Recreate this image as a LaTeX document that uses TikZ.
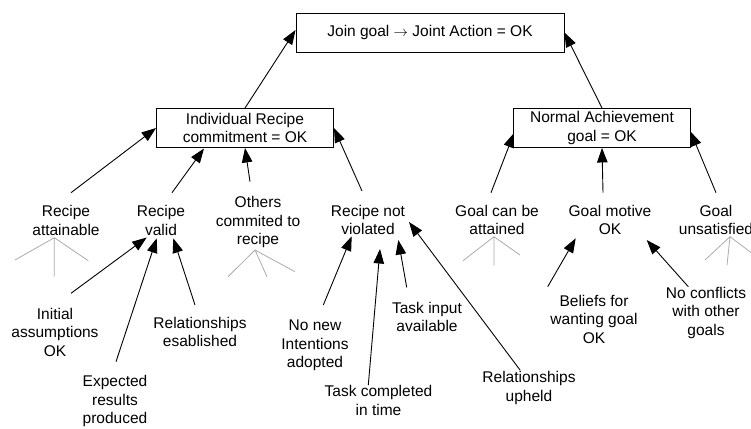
\documentclass[tikz,border=0pt]{standalone}
\usepackage{fontspec}
\setmainfont{Liberation Sans}
\usetikzlibrary{arrows.meta}
\begin{document}
\begin{tikzpicture}[x=1pt,y=-1pt,
  txt/.style={font=\fontsize{15.5}{18.5}\selectfont},
  % anchored at the baseline of the last line
  lbl/.style={txt, align=center, inner sep=0pt, anchor=base},
  goalbox/.style={txt, draw, line width=0.9pt, inner sep=0pt, align=center},
  arr/.style={line width=0.9pt, -{Triangle[length=14.5pt,width=10.5pt]}},
  subtree/.style={draw=black!33, line width=0.8pt}]
\clip (0,0) rectangle (751,428);

% goal boxes
\node[goalbox, minimum width=268pt, minimum height=39pt] (top) at (430,32.5)
  {Join goal $\rightarrow$ Joint Action = OK};
\node[goalbox, minimum width=177pt, minimum height=39pt] (ind) at (245,128)
  {Individual Recipe\\commitment = OK};
\node[goalbox, minimum width=177pt, minimum height=39pt] (norm) at (602,128)
  {Normal Achievement\\goal = OK};

% second level conditions
\node[lbl] (attain)   at (66,235.2)  {Recipe\\attainable};
\node[lbl] (valid)    at (161,235.2) {Recipe\\valid};
\node[lbl] (others)   at (258,244.5) {Others\\commited to\\recipe};
\node[lbl] (notviol)  at (368,234.8) {Recipe not\\violated};
\node[lbl] (attained) at (497,234.5) {Goal can be\\attained};
\node[lbl] (motive)   at (610,234.5) {Goal motive\\OK};
\node[lbl] (unsat)    at (716,234.5) {Goal\\unsatisfied};

% third level conditions
\node[lbl] (initial)   at (55,356.3)  {Initial\\assumptions\\OK};
\node[lbl] (expected)  at (115,423.7) {Expected\\results\\produced};
\node[lbl] (relest)    at (200,346.8) {Relationships\\esablished};
\node[lbl] (nonew)     at (315,367.7) {No new\\Intentions\\adopted};
\node[lbl] (taskcomp)  at (378.5,415.2) {Task completed\\in time};
\node[lbl] (taskinput) at (427,331.8) {Task input\\available};
\node[lbl] (relup)     at (529,401.2) {Relationships\\upheld};
\node[lbl] (beliefs)   at (594,343)   {Beliefs for\\wanting goal\\OK};
\node[lbl] (noconf)    at (706,335.3) {No conflicts\\with other\\goals};

% connector end points
\coordinate (attain-o)   at (71,192.7);
\coordinate (valid-o)    at (172,192.7);
\coordinate (valid-t)    at (204,148.5);
\coordinate (others-o)   at (250,181.7);
\coordinate (notviol-o)  at (362,191);
\coordinate (attained-o) at (491,192.7);
\coordinate (attained-t) at (514,133);
\coordinate (motive-o)   at (603,192.7);
\coordinate (unsat-o)    at (716,192.7);
\coordinate (unsat-t)    at (690.5,131.5);

\coordinate (initial-o)   at (71,293.3);
\coordinate (initial-t)   at (146.7,237.5);
\coordinate (expected-o)  at (116,361.7);
\coordinate (expected-t)  at (156.7,238.3);
\coordinate (relest-o)    at (195,305);
\coordinate (relest-t)    at (173.3,238.3);
\coordinate (nonew-o)     at (323.3,305);
\coordinate (nonew-t)     at (351.7,236.3);
\coordinate (taskcomp-o)  at (368.3,385);
\coordinate (taskcomp-t)  at (380,249);
\coordinate (taskinput-o) at (406.7,287.3);
\coordinate (taskinput-t) at (398.3,240);
\coordinate (relup-o)     at (520,370);
\coordinate (relup-t)     at (409,222);
\coordinate (beliefs-o)   at (547.7,286.7);
\coordinate (beliefs-t)   at (575.7,238.3);
\coordinate (noconf-o)    at (688.3,286.7);
\coordinate (noconf-t)    at (646.7,240);

% connectors
\draw[arr] (ind.north) -- ([yshift=2.5pt]top.west);
\draw[arr] (norm.north) -- (top.east);
\draw[arr] (attain-o) -- (ind.west);
\draw[arr] (valid-o) -- (valid-t);
\draw[arr] (others-o) -- (ind.south);
\draw[arr] (notviol-o) -- (ind.east);
\draw[arr] (attained-o) -- (attained-t);
\draw[arr] (motive-o) -- (norm.south);
\draw[arr] (unsat-o) -- (unsat-t);

\draw[arr] (initial-o) -- (initial-t);
\draw[arr] (expected-o) -- (expected-t);
\draw[arr] (relest-o) -- (relest-t);
\draw[arr] (nonew-o) -- (nonew-t);
\draw[arr] (taskcomp-o) -- (taskcomp-t);
\draw[arr] (taskinput-o) -- (taskinput-t);
\draw[arr] (relup-o) -- (relup-t);
\draw[arr] (beliefs-o) -- (beliefs-t);
\draw[arr] (noconf-o) -- (noconf-t);

% collapsed sub-trees
\draw[subtree] (15,260) -- (54.3,237.7) -- (88.3,260.7) (54.3,237.7) -- (54.3,276.7);
\draw[subtree] (228,276.7) -- (255,250) -- (295,271.7) (255,250) -- (267,276.7);
\draw[subtree] (463,260.7) -- (494,236.7) -- (520,255) (494,236.7) -- (494,265.7);
\draw[subtree] (705,260) -- (730,236.7) -- (770,266.7) (730,236.7) -- (727,265);
\end{tikzpicture}
\end{document}
